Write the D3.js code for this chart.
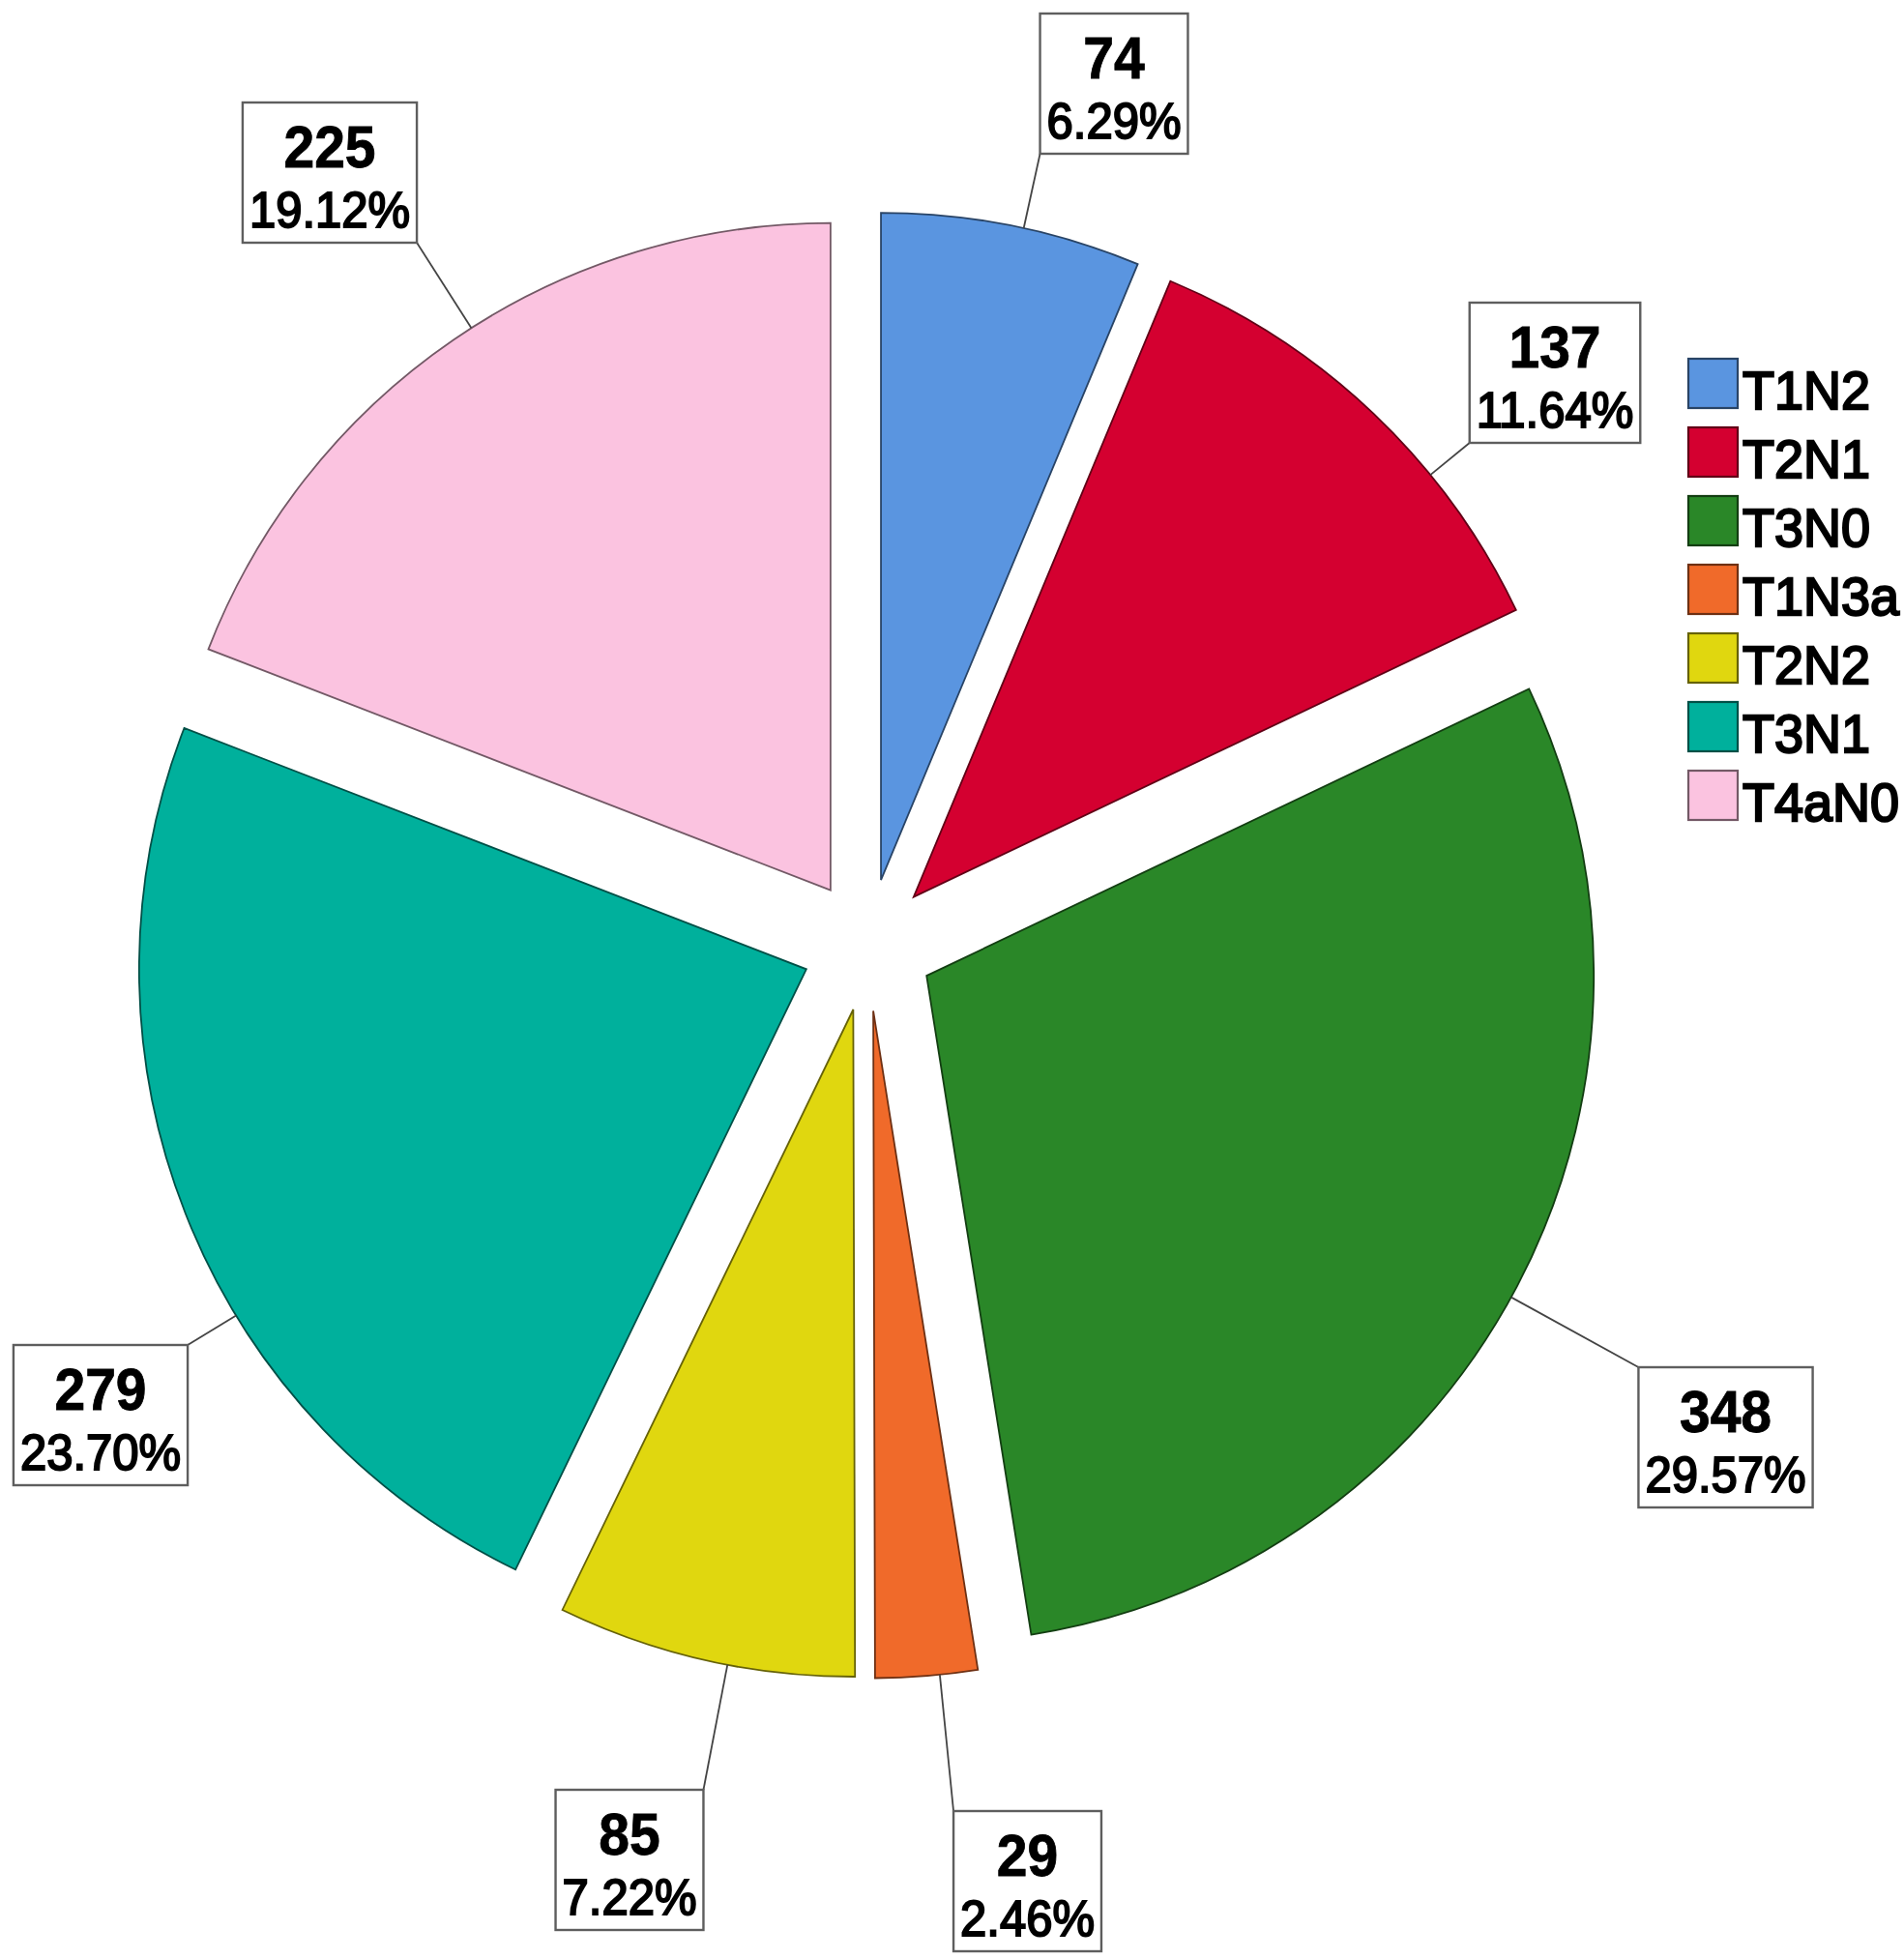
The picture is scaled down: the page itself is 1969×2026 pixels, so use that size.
<!DOCTYPE html>
<html>
<head>
<meta charset="utf-8">
<script src="https://cdn.jsdelivr.net/npm/d3@7"></script>
<style>
  html, body { margin: 0; padding: 0; background: #fff; }
  svg { display: block; }
</style>
</head>
<body>
<svg id="chart" width="1969" height="2026"></svg>
<script>
// ---- data ----
const categories = ["T1N2", "T2N1", "T3N0", "T1N3a", "T2N2", "T3N1", "T4aN0"];
const counts     = [74, 137, 348, 29, 85, 279, 225];
const colors     = ["#5A95E0", "#D40030", "#2A8728", "#F06A2A", "#E0D70F", "#00B09C", "#FBC3E0"];

// ---- layout (positions only) ----
const W = 1969, H = 2026;
const cx = 897.6, cy = 977.2, R = 690, explode = 68.5;
// label box: center x, top y
const labelBoxes = [
  [1152, 14], [1608, 313], [1784.5, 1414], [1062.5, 1873], [651, 1851], [104, 1391], [341, 106]
];
const boxH = 145;

const svg = d3.select("#chart");
svg.append("rect").attr("width", W).attr("height", H).attr("fill", "#fff");

const total = d3.sum(counts);
const data = categories.map((c, i) => ({ cat: c, value: counts[i], color: colors[i], box: labelBoxes[i] }));

const pie = d3.pie().sort(null).value(d => d.value);
const arcs = pie(data);
const arc = d3.arc().innerRadius(0).outerRadius(R);

const g = svg.append("g").attr("transform", `translate(${cx},${cy})`);

arcs.forEach(a => {
  const mid = (a.startAngle + a.endAngle) / 2;
  a.ox = explode * Math.sin(mid);
  a.oy = -explode * Math.cos(mid);
});

g.selectAll("path.slice")
  .data(arcs)
  .join("path")
  .attr("class", "slice")
  .attr("transform", d => `translate(${d.ox},${d.oy})`)
  .attr("d", arc)
  .attr("fill", d => d.data.color)
  .attr("stroke", d => d3.color(d.data.color).darker(2.2))
  .attr("stroke-width", 1.8)
  .attr("stroke-linejoin", "miter");

// ---- labels ----
const lab = svg.append("g");
arcs.forEach(a => {
  const [bcx, by] = a.data.box;
  const grp = lab.append("g");
  const pct = (a.data.value / total * 100).toFixed(2) + "%";
  const rect = grp.append("rect");
  const t1 = grp.append("text")
    .attr("transform", `translate(${bcx},${by + 67}) scale(1,1.06)`)
    .attr("text-anchor", "middle")
    .attr("font-family", "Liberation Sans, Arial, sans-serif")
    .attr("font-weight", "bold")
    .attr("font-size", 57)
    .attr("fill", "#000")
    .attr("stroke", "#000").attr("stroke-width", 0.8)
    .text(a.data.value);
  const t2 = grp.append("text")
    .attr("transform", `translate(${bcx},${by + 129}) scale(1,1.07)`)
    .attr("text-anchor", "middle")
    .attr("font-family", "Liberation Sans, Arial, sans-serif")
    .attr("font-size", 49)
    .attr("fill", "#000")
    .attr("stroke", "#000").attr("stroke-width", 1.9)
    .text(pct);
  const tw = Math.max(t1.node().getComputedTextLength(), t2.node().getComputedTextLength());
  const bw = tw + 14;
  const bx = bcx - bw / 2;
  rect.attr("x", bx).attr("y", by).attr("width", bw).attr("height", boxH)
    .attr("fill", "#fff").attr("stroke", "#5e5e5e").attr("stroke-width", 2.4);

  // leader line: from corner nearest to slice apex toward slice arc
  const ax = cx + a.ox, ay = cy + a.oy;
  const corners = [[bx, by], [bx + bw, by], [bx, by + boxH], [bx + bw, by + boxH]];
  let best = corners[0], bd = Infinity;
  corners.forEach(c => { const d = Math.hypot(c[0] - ax, c[1] - ay); if (d < bd) { bd = d; best = c; } });
  const ux = (best[0] - ax) / bd, uy = (best[1] - ay) / bd;
  const px = ax + ux * R, py = ay + uy * R;
  lab.insert("line", ":first-child")
    .attr("x1", best[0]).attr("y1", best[1])
    .attr("x2", px).attr("y2", py)
    .attr("stroke", "#444").attr("stroke-width", 1.8);
});

// ---- legend ----
const lx = 1746, ly = 371, sw = 51, step = 71;
const leg = svg.append("g");
data.forEach((d, i) => {
  leg.append("rect")
    .attr("x", lx).attr("y", ly + i * step)
    .attr("width", sw).attr("height", sw)
    .attr("fill", d.color)
    .attr("stroke", d3.color(d.color).darker(2.2))
    .attr("stroke-width", 2.2);
  leg.append("text")
    .attr("transform", `translate(${lx + 56},${ly + i * step + 52}) scale(1,1.04)`)
    .attr("font-family", "Liberation Sans, Arial, sans-serif")
    .attr("font-size", 54)
    .attr("fill", "#000")
    .attr("stroke", "#000").attr("stroke-width", 2.2)
    .text(d.cat);
});
</script>
</body>
</html>
